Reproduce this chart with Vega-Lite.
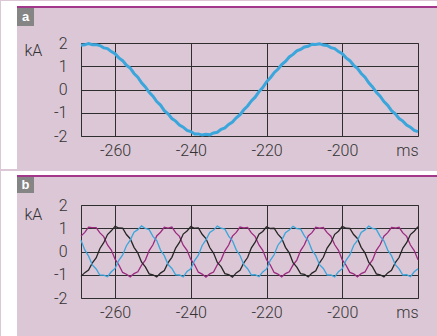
{
"$schema": "https://vega.github.io/schema/vega-lite/v6.json",
"background": "#dcc7d6",
"padding": 0,
"spacing": 0,
"config": {
  "font": "Roboto",
  "view": {"stroke": "#2e2e2e", "strokeWidth": 1},
  "axis": {"labelFont": "Roboto", "labelFontWeight": 300, "labelFontSize": 16, "labelColor": "#333333", "titleFont": "Roboto", "titleFontWeight": 300, "titleFontSize": 16, "titleColor": "#333333", "gridColor": "#2e2e2e", "gridWidth": 1, "gridOpacity": 1, "ticks": false, "tickSize": 0, "domain": false, "labelOverlap": false}
},
"datasets": {
"w": [
{"t":-269,"a":1.90,"m":0.66,"k":-1.07,"b":0.48},
{"t":-268,"a":1.92,"m":0.82,"k":-0.91,"b":0.07},
{"t":-267,"a":1.98,"m":1.05,"k":-0.80,"b":-0.20},
{"t":-266,"a":1.93,"m":1.03,"k":-0.49,"b":-0.58},
{"t":-265,"a":1.93,"m":1.03,"k":-0.28,"b":-0.75},
{"t":-264,"a":1.89,"m":0.80,"k":0.13,"b":-1.02},
{"t":-263,"a":1.79,"m":0.64,"k":0.38,"b":-1.02},
{"t":-262,"a":1.76,"m":0.28,"k":0.73,"b":-1.08},
{"t":-261,"a":1.63,"m":0.06,"k":0.89,"b":-0.87},
{"t":-260,"a":1.54,"m":-0.33,"k":1.08,"b":-0.73},
{"t":-259,"a":1.36,"m":-0.58,"k":1.01,"b":-0.38},
{"t":-258,"a":1.24,"m":-0.90,"k":1.00,"b":-0.15},
{"t":-257,"a":1.04,"m":-0.98,"k":0.73,"b":0.25},
{"t":-256,"a":0.92,"m":-1.09,"k":0.55,"b":0.49},
{"t":-255,"a":0.69,"m":-0.95,"k":0.18,"b":0.83},
{"t":-254,"a":0.53,"m":-0.87,"k":-0.06,"b":0.94},
{"t":-253,"a":0.29,"m":-0.59,"k":-0.46,"b":1.10},
{"t":-252,"a":0.11,"m":-0.37,"k":-0.66,"b":0.99},
{"t":-251,"a":-0.12,"m":0.04,"k":-0.96,"b":0.94},
{"t":-250,"a":-0.29,"m":0.29,"k":-1.00,"b":0.65},
{"t":-249,"a":-0.52,"m":0.67,"k":-1.09,"b":0.47},
{"t":-248,"a":-0.67,"m":0.83,"k":-0.93,"b":0.06},
{"t":-247,"a":-0.91,"m":1.04,"k":-0.82,"b":-0.18},
{"t":-246,"a":-1.05,"m":1.01,"k":-0.48,"b":-0.56},
{"t":-245,"a":-1.25,"m":1.05,"k":-0.25,"b":-0.73},
{"t":-244,"a":-1.36,"m":0.81,"k":0.15,"b":-1.00},
{"t":-243,"a":-1.53,"m":0.65,"k":0.39,"b":-1.01},
{"t":-242,"a":-1.62,"m":0.27,"k":0.75,"b":-1.09},
{"t":-241,"a":-1.76,"m":0.05,"k":0.88,"b":-0.86},
{"t":-240,"a":-1.81,"m":-0.34,"k":1.07,"b":-0.74},
{"t":-239,"a":-1.91,"m":-0.57,"k":1.00,"b":-0.39},
{"t":-238,"a":-1.91,"m":-0.89,"k":1.01,"b":-0.16},
{"t":-237,"a":-1.96,"m":-0.97,"k":0.74,"b":0.26},
{"t":-236,"a":-1.93,"m":-1.10,"k":0.56,"b":0.50},
{"t":-235,"a":-1.95,"m":-0.96,"k":0.17,"b":0.82},
{"t":-234,"a":-1.87,"m":-0.88,"k":-0.07,"b":0.92},
{"t":-233,"a":-1.84,"m":-0.57,"k":-0.47,"b":1.09},
{"t":-232,"a":-1.71,"m":-0.36,"k":-0.65,"b":1.00},
{"t":-231,"a":-1.65,"m":0.03,"k":-0.95,"b":0.96},
{"t":-230,"a":-1.50,"m":0.28,"k":-0.99,"b":0.66},
{"t":-229,"a":-1.40,"m":0.66,"k":-1.10,"b":0.46},
{"t":-228,"a":-1.22,"m":0.82,"k":-0.92,"b":0.07},
{"t":-227,"a":-1.08,"m":1.05,"k":-0.81,"b":-0.17},
{"t":-226,"a":-0.87,"m":1.02,"k":-0.49,"b":-0.57},
{"t":-225,"a":-0.71,"m":1.04,"k":-0.26,"b":-0.74},
{"t":-224,"a":-0.49,"m":0.80,"k":0.16,"b":-1.01},
{"t":-223,"a":-0.33,"m":0.64,"k":0.40,"b":-1.00},
{"t":-222,"a":-0.09,"m":0.28,"k":0.74,"b":-1.08},
{"t":-221,"a":0.08,"m":0.05,"k":0.86,"b":-0.88},
{"t":-220,"a":0.33,"m":-0.35,"k":1.06,"b":-0.75},
{"t":-219,"a":0.50,"m":-0.58,"k":0.99,"b":-0.38},
{"t":-218,"a":0.72,"m":-0.90,"k":1.00,"b":-0.14},
{"t":-217,"a":0.87,"m":-0.97,"k":0.75,"b":0.27},
{"t":-216,"a":1.07,"m":-1.09,"k":0.57,"b":0.48},
{"t":-215,"a":1.21,"m":-0.95,"k":0.18,"b":0.81},
{"t":-214,"a":1.40,"m":-0.87,"k":-0.06,"b":0.92},
{"t":-213,"a":1.51,"m":-0.58,"k":-0.48,"b":1.08},
{"t":-212,"a":1.66,"m":-0.37,"k":-0.67,"b":0.98},
{"t":-211,"a":1.72,"m":0.04,"k":-0.95,"b":0.96},
{"t":-210,"a":1.83,"m":0.29,"k":-0.98,"b":0.67},
{"t":-209,"a":1.86,"m":0.67,"k":-1.09,"b":0.47},
{"t":-208,"a":1.95,"m":0.81,"k":-0.93,"b":0.06},
{"t":-207,"a":1.94,"m":1.04,"k":-0.83,"b":-0.18},
{"t":-206,"a":1.97,"m":1.00,"k":-0.49,"b":-0.57},
{"t":-205,"a":1.91,"m":1.03,"k":-0.25,"b":-0.73},
{"t":-204,"a":1.89,"m":0.81,"k":0.15,"b":-1.01},
{"t":-203,"a":1.80,"m":0.66,"k":0.38,"b":-1.01},
{"t":-202,"a":1.76,"m":0.29,"k":0.74,"b":-1.09},
{"t":-201,"a":1.63,"m":0.05,"k":0.87,"b":-0.87},
{"t":-200,"a":1.54,"m":-0.36,"k":1.08,"b":-0.74},
{"t":-199,"a":1.36,"m":-0.59,"k":1.00,"b":-0.38},
{"t":-198,"a":1.24,"m":-0.90,"k":0.99,"b":-0.15},
{"t":-197,"a":1.04,"m":-0.96,"k":0.73,"b":0.26},
{"t":-196,"a":0.91,"m":-1.09,"k":0.56,"b":0.48},
{"t":-195,"a":0.69,"m":-0.95,"k":0.18,"b":0.82},
{"t":-194,"a":0.53,"m":-0.88,"k":-0.06,"b":0.93},
{"t":-193,"a":0.29,"m":-0.58,"k":-0.47,"b":1.09},
{"t":-192,"a":0.11,"m":-0.36,"k":-0.66,"b":0.99},
{"t":-191,"a":-0.12,"m":0.05,"k":-0.96,"b":0.95},
{"t":-190,"a":-0.29,"m":0.29,"k":-1.00,"b":0.65},
{"t":-189,"a":-0.52,"m":0.66,"k":-1.09,"b":0.46},
{"t":-188,"a":-0.68,"m":0.81,"k":-0.92,"b":0.06},
{"t":-187,"a":-0.91,"m":1.03,"k":-0.81,"b":-0.18},
{"t":-186,"a":-1.05,"m":1.01,"k":-0.48,"b":-0.57},
{"t":-185,"a":-1.25,"m":1.04,"k":-0.26,"b":-0.75},
{"t":-184,"a":-1.36,"m":0.80,"k":0.15,"b":-1.01},
{"t":-183,"a":-1.53,"m":0.65,"k":0.38,"b":-1.00},
{"t":-182,"a":-1.62,"m":0.28,"k":0.73,"b":-1.08},
{"t":-181,"a":-1.76,"m":0.04,"k":0.87,"b":-0.87},
{"t":-180,"a":-1.81,"m":-0.35,"k":1.07,"b":-0.74}
]
},
"vconcat": [
{
  "width": 337, "height": 93,
  "layer": [
    {
      "data": {"name": "w"},
      "mark": {"type": "line", "color": "#3aa6dc", "strokeWidth": 3},
      "encoding": {
        "x": {"field": "t", "type": "quantitative", "scale": {"domain": [-269, -180], "nice": false, "zero": false},
          "axis": {"values": [-260, -240, -220, -200], "grid": true, "labelPadding": 6, "labelExpr": "'' + datum.value", "title": "ms", "titleAnchor": "end", "titleAlign": "right", "titleBaseline": "top", "titleX": 337, "titleY": 6,
            "encode": {"labels": {"update": {"dx": {"signal": "datum.value == -260 ? -4 : 0"}}}}}},
        "y": {"field": "a", "type": "quantitative", "scale": {"domain": [-2, 2], "nice": false, "zero": false},
          "axis": {"values": [-2, -1, 0, 1, 2], "tickCount": 5, "grid": true, "labelPadding": 14, "labelFlush": false, "labelBaseline": "middle", "labelExpr": "'' + datum.value", "title": "kA", "titleAngle": 0, "titleAlign": "left", "titleBaseline": "middle", "titleX": -57, "titleY": 7,
            "encode": {"labels": {"update": {"dy": {"signal": "datum.value == 2 ? 7 : datum.value == -2 ? -3 : 1"}}}}}}
      }
    },
    {
      "data": {"values": [{}]},
      "mark": {"type": "rect", "color": "white"},
      "encoding": {"x": {"datum": -290.128, "type": "quantitative"}, "x2": {"datum": -285.902}, "y": {"datum": 3.80645, "type": "quantitative"}, "y2": {"datum": -3.41935}}
    },
    {
      "data": {"values": [{}]},
      "mark": {"type": "rect", "color": "white"},
      "encoding": {"x": {"datum": -290.128, "type": "quantitative"}, "x2": {"datum": -174.718}, "y": {"datum": 3.80645, "type": "quantitative"}, "y2": {"datum": 3.5914}}
    },
    {
      "data": {"values": [{}]},
      "mark": {"type": "rect", "color": "#a3378a"},
      "encoding": {"x": {"datum": -285.902, "type": "quantitative"}, "x2": {"datum": -174.718}, "y": {"datum": 3.5914, "type": "quantitative"}, "y2": {"datum": 3.50538}}
    },
    {
      "data": {"values": [{}]},
      "mark": {"type": "rect", "color": "#858585"},
      "encoding": {"x": {"datum": -285.902, "type": "quantitative"}, "x2": {"datum": -281.413}, "y": {"datum": 3.50538, "type": "quantitative"}, "y2": {"datum": 2.73118}}
    },
    {
      "data": {"values": [{}]},
      "mark": {"type": "text", "text": "a", "color": "white", "font": "Liberation Sans", "fontWeight": "bold", "fontSize": 13, "align": "center", "baseline": "middle"},
      "encoding": {"x": {"datum": -283.657, "type": "quantitative"}, "y": {"datum": 3.118, "type": "quantitative"}}
    }
  ]
},
{
  "width": 337, "height": 93,
  "layer": [
    {
      "data": {"name": "w"},
      "transform": [{"fold": ["m", "k", "b"], "as": ["s", "v"]}],
      "mark": {"type": "line", "strokeWidth": 1.3},
      "encoding": {
        "x": {"field": "t", "type": "quantitative", "scale": {"domain": [-269, -180], "nice": false, "zero": false},
          "axis": {"values": [-260, -240, -220, -200], "grid": true, "labelPadding": 6, "labelExpr": "'' + datum.value", "title": "ms", "titleAnchor": "end", "titleAlign": "right", "titleBaseline": "top", "titleX": 337, "titleY": 6,
            "encode": {"labels": {"update": {"dx": {"signal": "datum.value == -260 ? -4 : 0"}}}}}},
        "y": {"field": "v", "type": "quantitative", "scale": {"domain": [-2, 2], "nice": false, "zero": false},
          "axis": {"values": [-2, -1, 0, 1, 2], "tickCount": 5, "grid": true, "labelPadding": 14, "labelFlush": false, "labelBaseline": "middle", "labelExpr": "'' + datum.value", "title": "kA", "titleAngle": 0, "titleAlign": "left", "titleBaseline": "middle", "titleX": -57, "titleY": 9,
            "encode": {"labels": {"update": {"dy": {"signal": "datum.value == 2 ? 9 : datum.value == -2 ? 0 : 1.5"}}}}}},
        "color": {"field": "s", "type": "nominal", "scale": {"domain": ["m", "k", "b"], "range": ["#9c2a80", "#262626", "#3aa6dc"]}, "legend": null}
      }
    },
    {
      "data": {"values": [{}]},
      "mark": {"type": "rect", "color": "white"},
      "encoding": {"x": {"datum": -290.128, "type": "quantitative"}, "x2": {"datum": -285.902}, "y": {"datum": 3.46237, "type": "quantitative"}, "y2": {"datum": -3.76344}}
    },
    {
      "data": {"values": [{}]},
      "mark": {"type": "rect", "color": "white"},
      "encoding": {"x": {"datum": -290.128, "type": "quantitative"}, "x2": {"datum": -174.718}, "y": {"datum": 3.46237, "type": "quantitative"}, "y2": {"datum": 3.29032}}
    },
    {
      "data": {"values": [{}]},
      "mark": {"type": "rect", "color": "#a3378a"},
      "encoding": {"x": {"datum": -285.902, "type": "quantitative"}, "x2": {"datum": -174.718}, "y": {"datum": 3.29032, "type": "quantitative"}, "y2": {"datum": 3.2043}}
    },
    {
      "data": {"values": [{}]},
      "mark": {"type": "rect", "color": "#858585"},
      "encoding": {"x": {"datum": -285.902, "type": "quantitative"}, "x2": {"datum": -281.413}, "y": {"datum": 3.2043, "type": "quantitative"}, "y2": {"datum": 2.51613}}
    },
    {
      "data": {"values": [{}]},
      "mark": {"type": "text", "text": "b", "color": "white", "font": "Liberation Sans", "fontWeight": "bold", "fontSize": 13, "align": "center", "baseline": "middle"},
      "encoding": {"x": {"datum": -283.657, "type": "quantitative"}, "y": {"datum": 2.86022, "type": "quantitative"}}
    }
  ]
}
]
}
